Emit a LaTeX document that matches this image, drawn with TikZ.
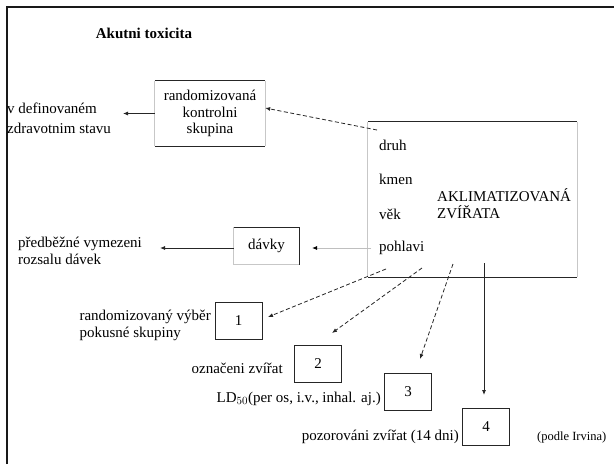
\documentclass[tikz,border=0pt]{standalone}
\usepackage{fontspec}
\setmainfont{Liberation Serif}
\usetikzlibrary{arrows.meta}
\begin{document}
\begin{tikzpicture}[x=1pt,y=-1pt,
  txt/.style={font=\fontsize{15}{17}\selectfont, inner sep=0pt},
  boxn/.style={inner sep=0pt, font=\fontsize{15}{17}\selectfont},
  numbox/.style={boxn, draw=black!85, line width=1pt, minimum width=47pt, minimum height=37pt},
  dk/.style={draw=black!85, line width=1.2pt},
  lt/.style={draw=black!22, line width=0.8pt},
  arr/.style={-{Latex[length=5pt,width=4pt]}, line width=0.8pt, black!85},
  darr/.style={arr, dash pattern=on 4pt off 2.5pt},
  garr/.style={-{Latex[length=5pt,width=4pt,color=black]}, line width=0.8pt, black!25},
]
\useasboundingbox (0,0) rectangle (614,464);
\fill[white] (0,0) rectangle (614,464);
% frame
\draw[line width=2.3pt, black!90] (7,464) -- (7,7) -- (614,7);

% title
\node[txt, font=\fontsize{15}{17}\selectfont\bfseries] (title) at (144,33) {Akutni toxicita};

% control group box
\node[boxn, minimum width=110pt, minimum height=65pt, align=center,
      font=\fontsize{15}{16.5}\selectfont] (kb) at (210,113.5)
      {randomizovaná\\kontrolni\\skupina};
\draw[dk] (kb.north west) -- (kb.north east);
\draw[dk] (kb.south west) -- (kb.south east);
\draw[lt] (kb.north west) -- (kb.south west);
\draw[lt] (kb.north east) -- (kb.south east);

\node[txt, anchor=west, align=left, font=\fontsize{15}{20}\selectfont] (vdef) at (7,118)
      {v definovaném\\zdravotnim stavu};
\coordinate (c1) at (123,113);
\draw[arr] (kb.west) -- (kb.west -| c1);

% acclimatized animals box
\node[boxn, minimum width=209pt, minimum height=155pt] (ab) at (472.5,199.5) {};
\draw[dk] (ab.north west) -- (ab.north east);
\draw[dk] (ab.south west) -- (ab.south east);
\draw[lt] (ab.north west) -- (ab.south west);
\draw[lt] (ab.north east) -- (ab.south east);

\node[txt, anchor=west] (druh) at (379,145) {druh};
\node[txt, anchor=west] (kmen) at (379,179) {kmen};
\node[txt, anchor=west] (vek) at (379,214) {věk};
\node[txt, anchor=west] (pohl) at (379,248) {pohlavi};
\node[txt, anchor=west, align=left] (akl) at (437,204) {AKLIMATIZOVANÁ\\ZVÍŘATA};

\coordinate (s0) at (377,130);
\draw[darr] (s0) -- (kb.east |- 0,108) coordinate (e0);

% doses
\node[boxn, minimum width=65pt, minimum height=37pt] (dv) at (266.5,246) {dávky};
\draw[dk] (dv.north west) -- (dv.north east) -- (dv.south east);
\draw[lt] (dv.north west) -- (dv.south west) -- (dv.south east);
\coordinate (c2) at (312,248);
\draw[garr] (pohl.west) ++(-8,0) coordinate (p0) -- (c2);
\coordinate (c3) at (160,248);
\draw[arr] (dv.west |- c3) -- (c3);
\node[txt, anchor=west, align=left, font=\fontsize{15}{16.5}\selectfont] (pred) at (18,251)
      {předběžné vymezeni\\rozsalu dávek};

% numbered boxes
\node[numbox] (b1) at (238.5,320.5) {1};
\node[numbox] (b2) at (318,364) {2};
\node[numbox] (b3) at (408,391.5) {3};
\node[numbox] (b4) at (486,427) {4};

\node[txt, anchor=east, align=left] (l1) at (211,325.5)
      {randomizovaný výběr\\pokusné skupiny};
\node[txt, anchor=east] (l2) at (283,368) {označeni zvířat};
\node[txt, anchor=east] (l3) at (381,399) {LD$_{50}$(per os, i.v., inhal. aj.)};
\node[txt, anchor=east] (l4) at (459,437) {pozorováni zvířat (14 dni)};
\node[txt, anchor=west, font=\fontsize{12.5}{14}\selectfont] (irv) at (537,437) {(podle Irvina)};

% arrows from animals
\coordinate (s1) at (386,269);
\coordinate (s2) at (422,268);
\coordinate (s3) at (453,264);
\coordinate (s4) at (484,263);
\draw[darr] (s1) -- (268,317) coordinate (t1);
\draw[darr] (s2) -- (332,333) coordinate (t2);
\draw[darr] (s3) -- (420,359) coordinate (t3);
\draw[arr] (s4) -- (484,395) coordinate (t4);
\end{tikzpicture}
\end{document}
